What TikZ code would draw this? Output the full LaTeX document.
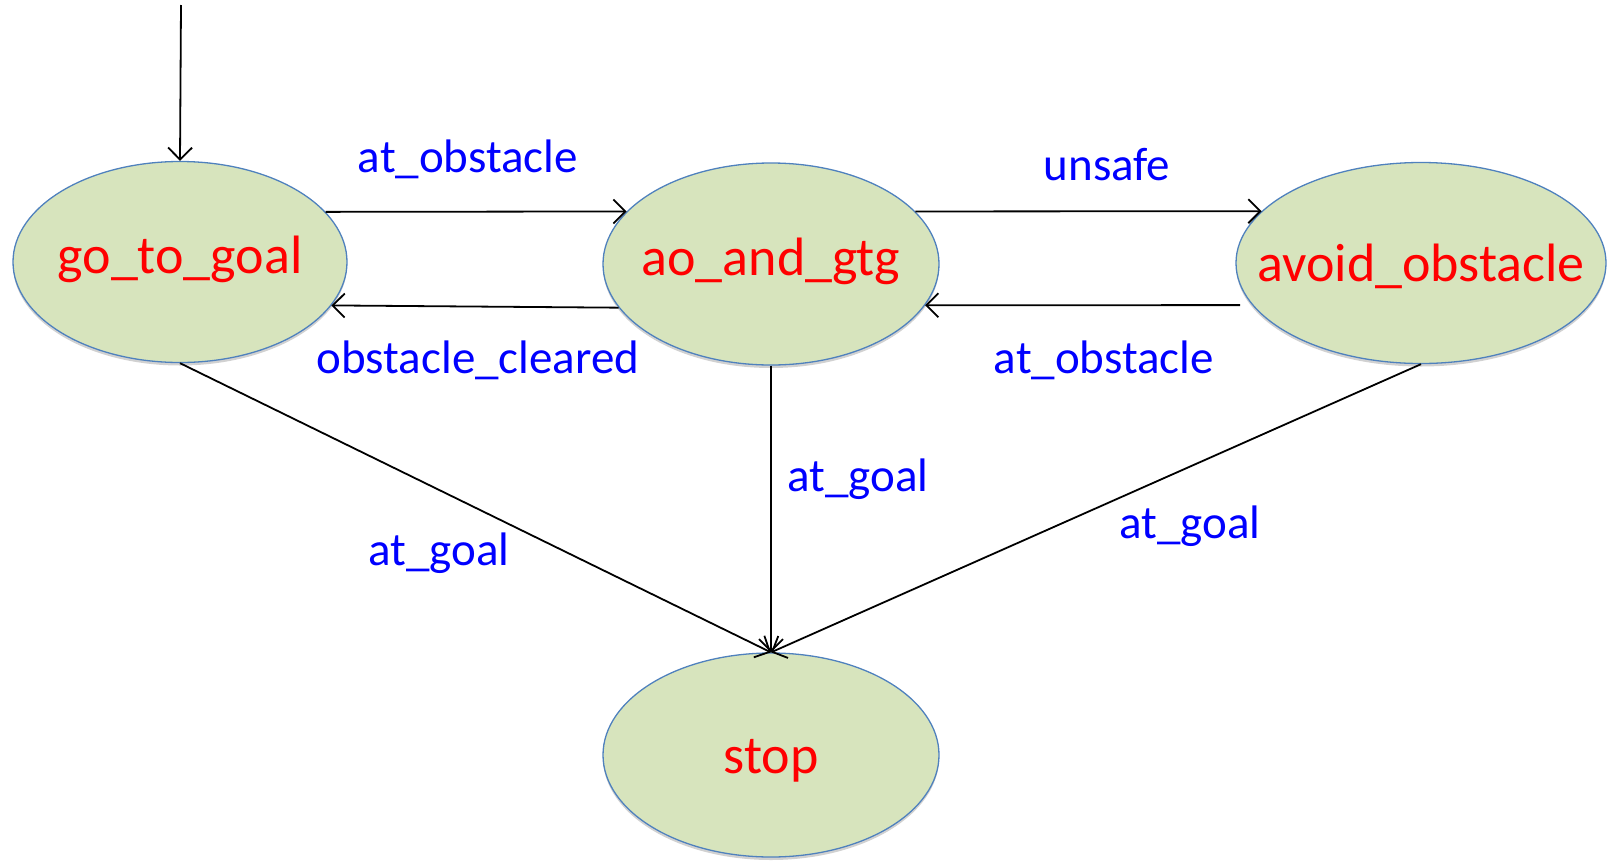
\documentclass[tikz,border=0pt]{standalone}
\usepackage{fontspec}
\setmainfont{Carlito}
\usetikzlibrary{shapes.geometric,arrows.meta,shadows}

\definecolor{statefill}{HTML}{D7E4BD}
\definecolor{stateline}{HTML}{4F81BD}

% the ellipse size is set by hand, so the text box is given zero width;
% the optional argument lifts the text (negative values lower it)
% while the box keeps its natural height and depth
\newcommand{\statetext}[2][0pt]{\raisebox{#1}[\height][\depth]{\makebox[0pt][c]{#2}}}

\tikzset{
  state/.style={ellipse, draw=stateline, line width=1.3pt, fill=statefill,
    inner sep=0pt, text=red, font=\fontsize{54}{60}\selectfont,
    drop shadow={shadow xshift=0pt, shadow yshift=-3pt, opacity=0.18, fill=black}},
  trans/.style={draw=black, line width=1.8pt,
    -{Straight Barb[length=12pt,width=24pt,line width=1.8pt]}},
  lbl/.style={text=blue, font=\fontsize{47}{52}\selectfont, inner sep=0pt}
}

\begin{document}
\begin{tikzpicture}[x=1pt,y=-1pt]
  \useasboundingbox (0,0) rectangle (1612,860);

  % states
  \node[state, minimum width=334pt, minimum height=201pt] (gtg) at (180,262) {\statetext[3pt]{go\_to\_goal}};
  \node[state, minimum width=336pt, minimum height=202pt] (ao)  at (771,264) {\statetext[3pt]{ao\_and\_gtg}};
  \node[state, minimum width=370pt, minimum height=201pt] (av)  at (1421,263) {\statetext[-3pt]{avoid\_obstacle}};
  \node[state, minimum width=336pt, minimum height=204pt] (stop) at (771,755) {\statetext[-6pt]{stop}};

  % entry point
  \coordinate (init) at (181,5);
  \draw[trans] (init) -- (gtg.north);

  % transitions between the upper states
  \draw[trans] (gtg.19) -- (ao.160);
  \draw[trans] (ao.20) -- (av.162);
  \draw[trans, shorten <=12pt] (av.194) -- (ao.345);
  \draw[trans] (ao.196) -- (gtg.344);

  % transitions into stop
  \draw[trans] (gtg.south) -- (stop.north);
  \draw[trans] (ao.south) -- (stop.north);
  \draw[trans] (av.south) -- (stop.north);

  % guards
  \node[lbl] (l1) at (468,159) {at\_obstacle};
  \node[lbl] (l2) at (1107,165) {unsafe};
  \node[lbl] (l3) at (478,360) {obstacle\_cleared};
  \node[lbl] (l4) at (1104,360) {at\_obstacle};
  \node[lbl] (l5) at (439,553) {at\_goal};
  \node[lbl] (l6) at (858,479) {at\_goal};
  \node[lbl] (l7) at (1190,526) {at\_goal};
\end{tikzpicture}
\end{document}
